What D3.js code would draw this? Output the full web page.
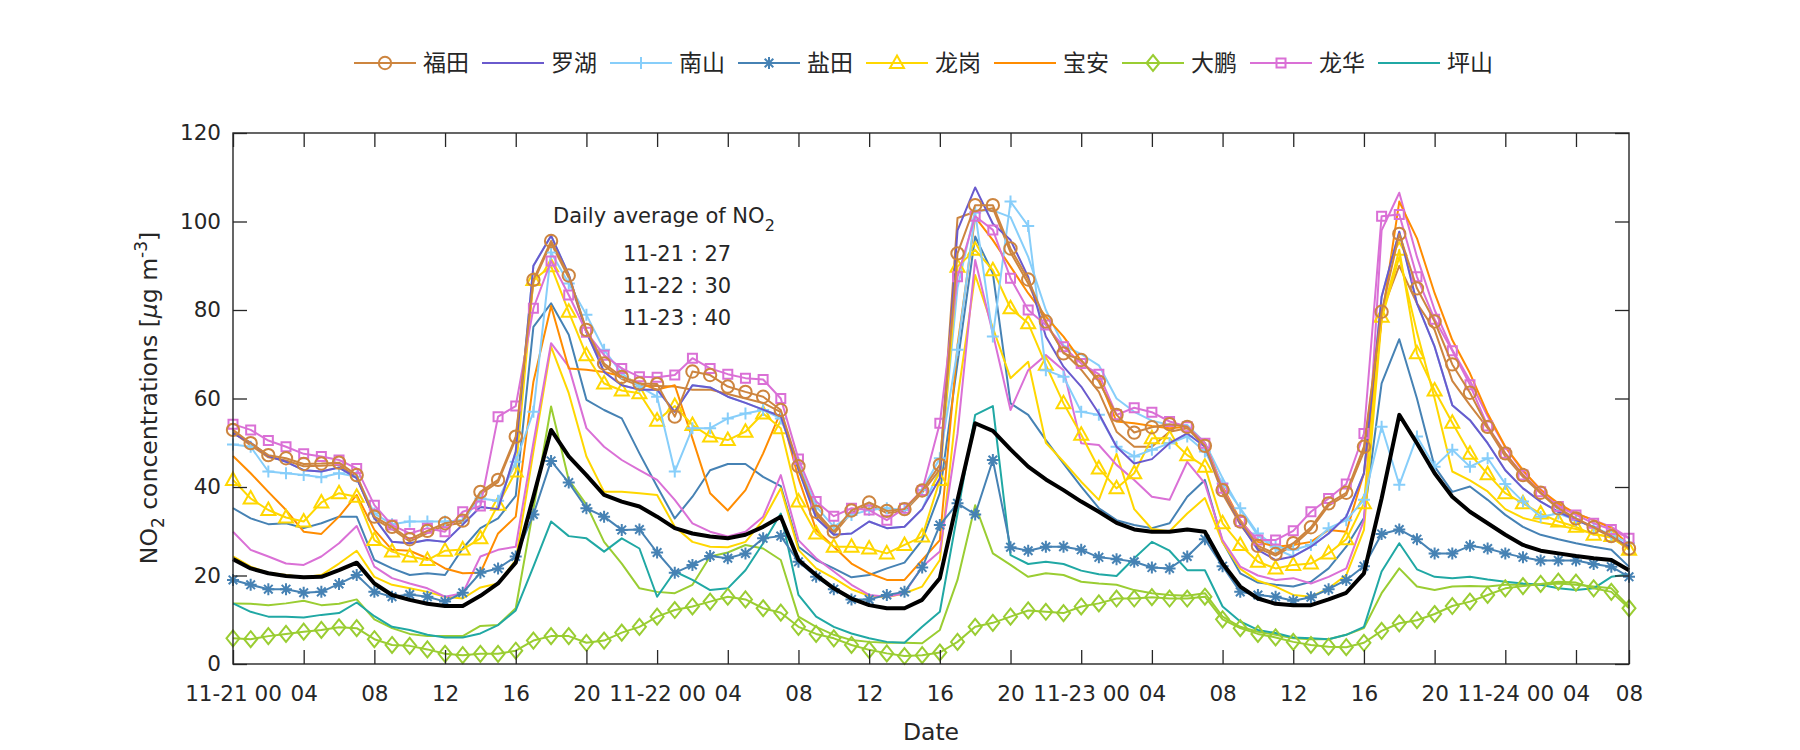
<!DOCTYPE html>
<html><head><meta charset="utf-8">
<script src="https://cdn.jsdelivr.net/npm/d3@7"></script>
<style>
body{margin:0;background:#fff;}
text{font-family:"DejaVu Sans",sans-serif;fill:#262626;}
.leg{font-family:"Noto Sans CJK SC",sans-serif;}
</style>
</head><body><svg id="c" width="1800" height="750"></svg>
<script>
// ---- tick definitions (hour index from 11-21 00) ----
const tickHours  = [0,4,8,12,16,20,24,28,32,36,40,44,48,52,56,60,64,68,72,76,79];
const tickLabels = ["11-21 00","04","08","12","16","20","11-22 00","04","08","12","16","20","11-23 00","04","08","12","16","20","11-24 00","04","08"];
const yTicks = [0,20,40,60,80,100,120];

// ---- series values (hourly, 80 points) ----
const futian = [52.9,49.9,47.2,46.5,45.2,45.3,45.5,42.7,33.3,31.0,28.2,30.1,31.8,32.4,38.9,41.6,51.4,86.8,95.6,87.8,
75.5,67.9,64.9,63.4,63.3,55.9,66.1,65.3,62.7,61.5,60.4,57.4,44.7,34.4,29.9,34.7,36.5,34.6,35.0,39.2,
45.0,92.8,103.7,103.7,93.9,86.9,77.4,70.2,68.7,63.8,56.3,52.3,53.5,54.2,53.6,49.3,39.3,32.2,26.7,24.9,
27.3,30.9,36.3,38.7,49.1,79.6,97.2,84.9,77.4,67.7,61.3,53.6,47.6,42.7,38.7,35.2,32.9,30.9,28.9,26.1];
const luohu = [52.1,50.0,47.0,45.7,43.8,43.5,44.4,42.0,33.0,27.6,27.3,28.0,27.6,31.5,35.5,35.0,48.0,90.0,96.8,88.0,
75.0,66.0,63.0,62.0,62.0,57.0,63.0,62.5,60.4,59.0,57.5,56.0,44.0,33.0,29.2,29.5,32.2,30.7,31.0,35.0,
42.0,98.0,107.7,99.5,95.8,87.5,74.0,67.2,62.7,56.6,49.1,45.3,46.3,49.9,52.1,49.1,39.3,31.8,25.8,23.5,
24.3,26.5,29.5,33.3,43.1,83.0,97.7,81.5,71.7,58.5,55.1,49.9,43.8,39.7,36.7,34.4,32.5,31.0,28.8,26.5];
const nanshan = [49.6,49.1,43.5,43.1,42.7,42.2,43.1,42.3,34.0,31.6,32.2,32.2,32.2,32.5,37.4,36.9,45.7,57.0,93.0,86.0,
78.9,71.0,65.7,62.7,60.4,43.5,53.3,53.3,55.5,56.6,57.4,55.5,45.3,35.6,31.0,33.7,34.8,35.2,34.8,39.3,
46.5,71.0,102.0,74.0,104.5,99.0,66.4,64.9,57.0,56.3,49.1,46.9,48.4,49.9,51.4,48.0,40.8,35.2,29.5,26.5,
25.8,26.9,30.7,32.5,37.1,53.6,40.5,51.4,44.6,48.4,44.6,46.5,40.7,36.7,33.3,34.0,32.5,31.0,29.2,27.3];
const yantian = [19.0,17.9,16.9,16.9,16.1,16.3,18.1,20.1,16.3,15.2,15.7,15.2,14.1,16.1,20.6,21.6,24.3,33.8,45.9,41.0,
35.2,33.3,30.3,30.4,25.2,20.6,22.4,24.4,23.9,25.0,28.4,28.9,23.1,19.7,16.9,14.6,14.6,15.6,16.3,21.8,
31.4,36.3,33.8,46.1,26.4,25.6,26.5,26.5,25.8,24.1,23.7,23.1,21.8,21.6,24.3,28.2,22.1,16.3,15.6,15.2,
14.3,15.1,16.9,19.0,22.1,29.4,30.4,28.2,25.0,25.0,26.7,26.1,25.0,24.1,23.4,23.4,23.4,22.6,22.0,19.7];
const longgang = [41.6,37.4,34.8,33.1,32.2,36.5,38.6,37.8,28.0,25.4,24.3,23.5,25.6,25.9,28.4,36.0,43.5,86.8,89.9,79.6,
69.8,63.4,61.8,61.2,55.0,58.3,54.0,51.4,50.6,52.5,56.6,53.3,36.7,29.5,26.5,26.5,26.1,25.0,26.9,28.8,
41.6,89.8,93.6,89.0,80.4,77.0,67.6,58.9,51.8,44.2,39.7,43.1,51.0,51.0,47.2,44.6,31.8,26.9,23.1,21.6,
22.4,22.7,25.0,28.2,36.3,78.5,93.6,70.2,61.8,54.5,47.5,42.9,38.6,36.3,34.0,32.2,31.0,29.2,28.9,25.8];
const baoan = [47.0,43.1,38.9,34.8,29.9,29.4,33.3,38.2,30.3,25.8,25.6,23.9,21.6,20.5,20.6,29.5,33.3,63.8,80.9,66.8,
66.5,66.0,65.0,63.5,62.0,63.0,51.0,38.6,34.7,39.3,47.6,57.0,42.0,30.3,26.5,22.7,20.5,19.0,19.0,23.5,
28.0,72.0,101.0,95.8,89.8,83.8,78.5,74.0,68.5,64.5,54.8,54.4,53.8,53.3,53.6,49.9,40.1,32.5,27.6,26.5,
26.9,27.6,30.3,29.9,43.1,77.7,104.5,96.2,83.8,73.2,65.7,56.6,49.1,43.8,39.3,36.3,34.0,32.5,30.7,26.9];
const dapeng = [5.8,5.6,6.3,6.8,7.3,7.7,8.3,8.1,5.6,4.3,4.1,3.3,2.3,2.0,2.3,2.3,3.0,5.3,6.3,6.3,
4.8,5.3,7.1,8.4,10.7,12.2,13.0,14.1,15.2,14.6,12.6,11.6,8.4,6.8,5.8,4.3,3.2,2.4,1.8,2.0,
2.6,5.0,8.4,9.3,10.7,12.1,11.8,11.5,13.0,13.7,14.8,14.8,15.1,14.8,14.8,15.2,10.1,8.1,6.8,6.0,
5.0,4.3,3.9,3.8,4.8,7.5,9.2,9.9,11.3,13.1,14.1,15.6,17.1,17.6,18.1,18.6,18.4,17.1,16.3,12.6];
const longhua = [54.2,52.9,50.5,49.1,47.5,46.9,46.1,44.2,35.9,31.4,29.5,30.7,29.9,34.4,35.7,55.9,58.3,80.4,91.1,83.4,
75.0,69.8,66.8,64.9,64.8,65.3,69.1,66.8,65.5,64.6,64.3,60.0,46.3,36.7,33.4,35.2,34.8,32.5,35.2,39.2,
54.4,87.5,101.2,98.1,87.2,80.0,76.6,71.7,67.9,65.5,56.3,57.9,56.9,54.8,53.6,49.9,39.7,32.2,28.0,28.0,
30.1,34.4,37.4,40.7,52.1,101.2,101.6,87.5,77.9,70.8,63.1,53.8,47.6,42.7,38.9,35.6,33.7,31.8,30.4,28.4];
const pingshan = [13.7,11.8,10.7,10.7,10.5,11.1,11.5,13.9,10.8,8.4,7.7,6.6,6.0,6.0,6.9,8.8,12.1,22.0,32.2,28.9,
28.4,25.4,28.4,26.1,15.2,20.9,19.0,16.7,17.1,21.2,27.3,34.0,15.6,10.7,8.4,6.9,5.8,5.0,4.8,8.4,
11.8,34.0,56.3,58.3,24.6,22.6,23.1,22.6,21.1,20.3,19.9,23.9,27.6,25.6,21.2,21.2,13.0,9.6,7.7,7.0,
6.0,5.8,5.6,6.6,8.4,20.9,27.3,21.4,19.7,19.4,19.7,19.1,18.6,18.2,17.9,17.1,16.7,17.1,19.7,20.3];
// additional stations (no legend entry)
const futian2 = [52.4,49.4,46.7,46.0,44.7,44.8,45.0,42.2,32.8,30.5,27.7,29.6,31.3,31.9,38.4,41.1,50.9,86.3,95.1,87.3,
75.0,67.4,64.4,62.9,62.8,62.7,62.0,62.0,61.0,60.0,59.0,56.9,44.2,33.9,29.4,34.2,36.0,34.1,34.5,38.7,
44.0,100.8,102.2,103.0,93.0,86.0,77.0,70.5,66.5,61.5,52.5,49.1,49.1,52.5,53.3,49.1,38.5,31.5,26.2,24.5,
26.8,30.4,35.8,38.2,48.0,79.5,90.0,81.5,75.5,64.0,58.5,53.3,46.9,42.3,38.6,35.0,32.7,30.7,28.7,25.9];
const nanshan2 = [52.1,50.0,47.0,45.7,43.8,43.5,44.4,42.0,33.0,27.6,27.3,28.0,27.6,31.5,35.5,35.0,48.0,90.0,96.8,88.0,
75.0,66.0,63.0,62.0,62.0,57.0,63.0,62.5,60.4,59.0,57.5,56.0,44.0,33.0,29.2,29.5,32.2,30.7,31.0,35.0,
44.0,85.0,102.5,102.5,101.0,92.0,80.0,72.0,70.0,67.5,60.0,57.0,55.0,54.0,54.0,50.0,42.0,35.0,29.0,26.0,
24.3,26.5,29.5,33.3,43.1,83.0,97.7,81.5,71.7,58.5,55.1,49.9,43.8,39.7,36.7,34.4,32.5,31.0,28.8,26.5];
const yantian2 = [35.2,32.9,31.6,31.8,30.7,31.8,33.3,33.3,23.5,21.6,20.1,20.5,20.1,26.1,30.7,32.9,38.0,76.2,81.5,74.4,
59.7,57.4,55.5,47.6,40.1,32.9,37.8,43.8,45.2,45.2,42.3,40.2,26.5,23.5,21.6,19.6,20.1,21.6,22.9,28.0,
38.6,68.0,96.6,88.3,58.9,56.3,50.6,45.3,40.1,35.2,32.5,31.4,30.7,31.8,37.8,41.6,27.6,20.5,18.4,17.9,
17.5,18.6,21.6,26.5,33.0,63.4,73.4,60.0,44.6,38.9,40.1,37.1,33.7,31.0,29.2,28.2,27.3,26.5,25.8,22.0];
const longgang2 = [24.3,22.0,20.6,20.1,19.6,20.1,22.7,25.6,19.7,17.9,17.1,16.3,15.2,14.8,17.3,18.2,23.5,48.0,71.7,61.2,
46.9,38.9,38.9,38.6,38.2,31.0,27.6,26.5,26.4,27.6,32.5,39.7,25.8,21.6,19.4,16.9,15.4,15.1,16.0,17.5,
23.5,60.0,87.9,76.0,64.6,68.3,50.0,45.7,41.2,37.1,47.5,35.0,30.5,30.0,34.0,37.5,27.5,21.5,18.8,17.5,
15.6,15.2,17.1,20.1,30.3,78.0,92.0,75.0,60.0,43.5,41.5,39.0,35.0,33.0,32.0,31.3,30.5,29.5,28.5,26.0];
const longhua2 = [29.9,25.8,24.3,22.7,22.4,24.3,27.3,31.2,22.0,19.4,18.2,17.1,15.2,16.0,24.3,25.8,26.5,50.0,72.5,67.2,
53.3,49.1,46.1,43.8,41.6,37.1,31.8,29.9,28.8,29.9,33.3,42.7,28.0,23.9,20.9,17.9,15.6,15.2,16.0,22.0,
25.4,52.0,91.3,74.7,57.4,66.4,69.8,66.4,49.9,49.5,45.0,41.6,37.8,37.1,45.7,40.8,28.0,22.0,20.0,19.0,
19.4,18.2,19.7,21.6,32.5,98.0,106.5,92.0,80.0,71.0,64.0,56.0,49.0,43.5,39.5,36.0,34.0,32.5,31.0,28.5];
const dapeng2 = [13.7,13.6,13.3,13.7,14.3,13.3,13.6,14.6,10.1,8.1,6.8,6.3,6.3,6.3,8.6,8.8,12.6,35.0,58.2,41.6,
36.0,27.6,22.7,17.1,16.3,16.0,17.9,24.3,25.2,26.9,26.1,23.5,10.7,8.4,6.6,5.4,5.0,4.8,4.8,4.7,
7.7,19.0,35.9,25.0,22.4,19.7,20.5,20.1,18.6,18.2,17.9,16.7,16.0,15.6,15.4,16.0,10.7,8.4,7.3,6.6,
5.8,5.6,5.6,6.6,8.1,16.0,21.6,17.5,16.7,17.5,17.6,17.5,17.9,17.9,17.9,18.2,17.9,17.5,17.1,13.0];
const average = [23.7,21.6,20.5,19.9,19.6,19.7,21.2,22.9,18.2,15.6,14.5,13.6,13.1,13.1,15.4,18.2,22.9,37.8,52.9,46.9,
42.7,38.2,36.7,35.6,33.3,30.7,29.5,28.8,28.4,29.2,31.0,33.3,23.5,20.1,17.1,14.8,13.3,12.6,12.6,14.5,
19.4,37.1,54.4,52.7,48.5,44.6,41.7,39.3,36.7,34.4,31.9,30.4,29.9,29.9,30.4,29.9,22.7,17.5,14.8,13.6,
13.3,13.3,14.6,16.1,20.5,37.4,56.3,49.9,43.1,37.8,34.4,31.8,29.2,26.9,25.6,25.0,24.4,23.9,23.5,21.2];

const dailyDates = ["11-21","11-22","11-23"];
const dailyMeans = [27,30,40];

// ---- chart ----
const L=233,R=1629,T=133,B=664;
const svg=d3.select("#c");
const x=d3.scaleLinear().domain([0,79]).range([L,R]);
const y=d3.scaleLinear().domain([0,120]).range([B,T]);
const AX="#262626";

const series=[
 {name:"南山2",data:nanshan2,color:"#87CEFA",m:null,leg:false},
 {name:"福田2",data:futian2,color:"#CD853F",m:null,leg:false},
 {name:"盐田2",data:yantian2,color:"#4682B4",m:null,leg:false},
 {name:"龙岗2",data:longgang2,color:"#FFD700",m:null,leg:false},
 {name:"龙华2",data:longhua2,color:"#DA70D6",m:null,leg:false},
 {name:"大鹏2",data:dapeng2,color:"#9ACD32",m:null,leg:false},
 {name:"坪山",data:pingshan,color:"#20A8A4",m:null,leg:true,li:8},
 {name:"大鹏",data:dapeng,color:"#9ACD32",m:"d",leg:true,li:6},
 {name:"宝安",data:baoan,color:"#FF8C00",m:null,leg:true,li:5},
 {name:"龙岗",data:longgang,color:"#FFD700",m:"^",leg:true,li:4},
 {name:"盐田",data:yantian,color:"#4682B4",m:"*",leg:true,li:3},
 {name:"南山",data:nanshan,color:"#87CEFA",m:"+",leg:true,li:2},
 {name:"罗湖",data:luohu,color:"#6A5ACD",m:null,leg:true,li:1},
 {name:"龙华",data:longhua,color:"#DA70D6",m:"s",leg:true,li:7},
 {name:"福田",data:futian,color:"#CD853F",m:"o",leg:true,li:0},
];

function markerPath(m){
  switch(m){
    case "o": return d3.symbol(d3.symbolCircle, 120)();
    case "+": return "M-6,0H6M0,-6V6";
    case "*": return "M-6,0H6M0,-6V6M-4.3,-4.3L4.3,4.3M-4.3,4.3L4.3,-4.3";
    case "^": return "M0,-7.5L7,5L-7,5Z";
    case "d": return "M0,-8L6.5,0L0,8L-6.5,0Z";
    case "s": return "M-4.5,-4.5H4.5V4.5H-4.5Z";
  }
  return null;
}

const plot=svg.append("g");
const line=d3.line().x((d,i)=>x(i)).y(d=>y(d));

series.forEach(s=>{
  const g=plot.append("g");
  g.append("path").attr("d",line(s.data)).attr("fill","none").attr("stroke",s.color)
    .attr("stroke-width",2).attr("stroke-linejoin","round");
  if(s.m){
    g.selectAll("path.mk").data(s.data).enter().append("path").attr("class","mk")
      .attr("d",markerPath(s.m)).attr("transform",(d,i)=>`translate(${x(i)},${y(d)})`)
      .attr("fill","none").attr("stroke",s.color).attr("stroke-width",2);
  }
});
plot.append("path").attr("d",line(average)).attr("fill","none").attr("stroke","#000")
  .attr("stroke-width",4).attr("stroke-linejoin","round");

// axes
const FS=21.5;
const xb=svg.append("g").attr("transform",`translate(0,${B})`)
  .call(d3.axisBottom(x).tickValues(tickHours).tickFormat((d,i)=>tickLabels[i]).tickSizeInner(-14).tickSizeOuter(0).tickPadding(22));
const xt=svg.append("g").attr("transform",`translate(0,${T})`)
  .call(d3.axisTop(x).tickValues(tickHours.slice(0,-1)).tickFormat("").tickSizeInner(-14).tickSizeOuter(0));
const yl=svg.append("g").attr("transform",`translate(${L},0)`)
  .call(d3.axisLeft(y).tickValues(yTicks).tickSizeInner(-14).tickSizeOuter(0).tickPadding(12));
const yr=svg.append("g").attr("transform",`translate(${R},0)`)
  .call(d3.axisRight(y).tickValues(yTicks).tickFormat("").tickSizeInner(-14).tickSizeOuter(0));
[xb,xt,yl,yr].forEach(g=>{
  g.select(".domain").remove();
  g.selectAll(".tick line").attr("stroke",AX).attr("stroke-width",1.3);
  g.selectAll(".tick text").attr("font-size",FS).attr("fill",AX).style("font-family","'DejaVu Sans', sans-serif");
});
svg.append("rect").attr("x",L).attr("y",T).attr("width",R-L).attr("height",B-T)
  .attr("fill","none").attr("stroke",AX).attr("stroke-width",1.4);

// axis labels
const LF=23.5;
svg.append("text").attr("x",(L+R)/2).attr("y",740).attr("text-anchor","middle").attr("font-size",LF).text("Date");
const yt=svg.append("text").attr("transform","translate(157,398) rotate(-90)").attr("text-anchor","middle").attr("font-size",LF);
yt.append("tspan").text("NO");
yt.append("tspan").attr("font-size",17).attr("dy",7).text("2");
yt.append("tspan").attr("dy",-7).text(" concentrations [");
yt.append("tspan").attr("font-style","italic").text("μ");
yt.append("tspan").text("g m");
yt.append("tspan").attr("font-size",17).attr("dy",-10).text("-3");
yt.append("tspan").attr("dy",10).text("]");

// annotation
const AF=21;
const an=svg.append("text").attr("x",553).attr("y",223).attr("font-size",AF);
an.append("tspan").text("Daily average of NO");
an.append("tspan").attr("font-size",16).attr("dy",8).text("2");
dailyDates.forEach((d,i)=>{
  svg.append("text").attr("x",623).attr("y",261+i*32.2).attr("font-size",AF).text(`${d} : ${dailyMeans[i]}`);
});

// legend
const legItems=series.filter(s=>s.leg).sort((a,b)=>a.li-b.li);
let cx=354;
const ly=63;
legItems.forEach(s=>{
  const g=svg.append("g");
  g.append("line").attr("x1",cx).attr("x2",cx+62).attr("y1",ly).attr("y2",ly).attr("stroke",s.color).attr("stroke-width",2);
  if(s.m) g.append("path").attr("d",markerPath(s.m)).attr("transform",`translate(${cx+31},${ly})`).attr("fill","none").attr("stroke",s.color).attr("stroke-width",2);
  const t=g.append("text").attr("class","leg").attr("x",cx+69).attr("y",ly+8).attr("font-size",23).text(s.name);
  const w=t.node().getComputedTextLength();
  cx+=69+w+13;
});
</script></body></html>
